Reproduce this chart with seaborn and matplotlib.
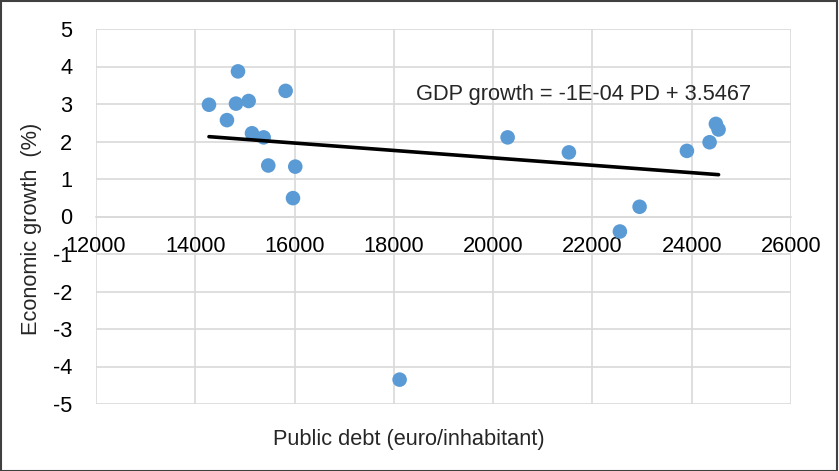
import numpy as np
import pandas as pd
import matplotlib
matplotlib.use("Agg")
import matplotlib.pyplot as plt
import seaborn as sns
from matplotlib.patches import Rectangle

public_debt = [14276, 14860, 14820, 15075, 14638, 15142, 15377, 15820, 15470, 16014,
               15968, 20292, 21526, 22950, 22553, 23903, 24360, 24487, 24541, 18116]
gdp_growth = [2.98, 3.87, 3.01, 3.08, 2.57, 2.22, 2.11, 3.35, 1.36, 1.33,
              0.49, 2.11, 1.71, 0.26, -0.40, 1.75, 1.98, 2.47, 2.32, -4.35]
x_ticks = [12000, 14000, 16000, 18000, 20000, 22000, 24000, 26000]
y_ticks = [-5, -4, -3, -2, -1, 0, 1, 2, 3, 4, 5]
equation_label = "GDP growth = -1E-04 PD + 3.5467"

df = pd.DataFrame({"PD": public_debt, "GDP": gdp_growth})

sns.set_theme(style="white")
plt.rcParams['font.family'] = ['Liberation Sans', 'DejaVu Sans']
FS = 15.7

W, H = 839, 471
fig = plt.figure(figsize=(W / 100, H / 100), dpi=100)
ax = fig.add_axes([96 / W, 1 - 404 / H, (791 - 96) / W, (404 - 29) / H])

grid_c = "#d9d9d9"
sns.scatterplot(data=df, x="PD", y="GDP", ax=ax, color="#5b9bd5", s=110,
                edgecolor="none", zorder=3)
sns.regplot(data=df, x="PD", y="GDP", ax=ax, scatter=False, ci=None,
            truncate=True, line_kws={"color": "black", "linewidth": 2.6, "zorder": 4})

ax.set_xlim(12000, 26000)
ax.set_ylim(-5, 5)
ax.set_xticks(x_ticks)
ax.set_yticks(y_ticks)
ax.set_xticklabels([str(t) for t in x_ticks])
ax.set_yticklabels([str(t) for t in y_ticks])
ax.grid(True, color=grid_c, linewidth=1.2)
ax.set_axisbelow(True)
for s in ["top", "right", "left"]:
    ax.spines[s].set_visible(False)
ax.spines["bottom"].set_position(("data", 0))
ax.spines["bottom"].set_color(grid_c)
ax.spines["bottom"].set_linewidth(1.2)
ax.tick_params(axis="both", length=0, labelsize=FS, colors="black")
ax.tick_params(axis="x", pad=14)
ax.tick_params(axis="y", pad=17)
ax.set_xlabel("")
ax.set_ylabel("")

fig.text(32 / W, 1 - 229 / H, "Economic growth  (%)", rotation=90, ha="center",
         va="center", fontsize=FS)
fig.text(409 / W, 1 - 440 / H, "Public debt (euro/inhabitant)", ha="center",
         va="center", fontsize=FS)
ax.text((416 - 96) / 695, 1 - (100 - 29) / 375, equation_label, transform=ax.transAxes,
        ha="left", va="baseline", fontsize=FS)

fig.patches.append(Rectangle((0.001, 0.001), 0.997, 0.997, transform=fig.transFigure,
                             fill=False, edgecolor="#404040", linewidth=1.5))

fig.savefig("out.png", dpi=100)
